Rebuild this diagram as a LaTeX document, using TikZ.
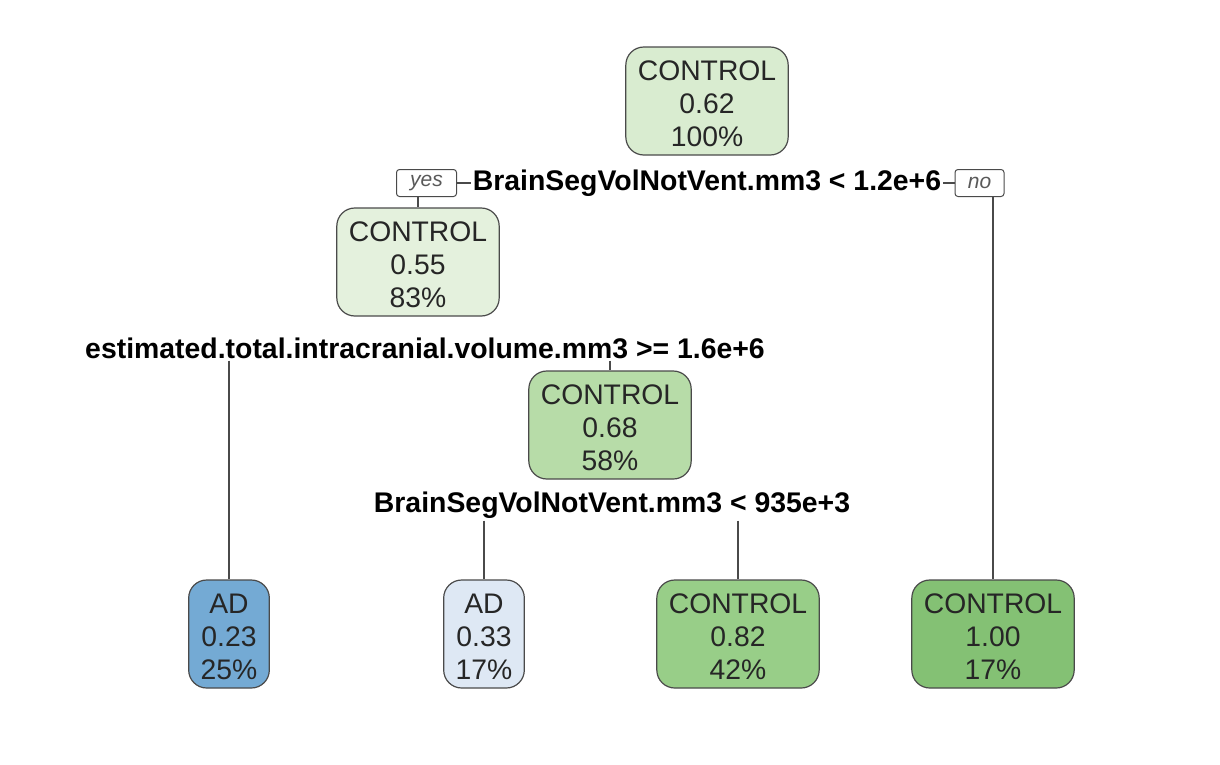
\documentclass[tikz,border=0pt]{standalone}
\usepackage{fontspec}
\setmainfont{Liberation Sans}
\definecolor{croot}{HTML}{D9ECD0}
\definecolor{cnodeB}{HTML}{E4F1DD}
\definecolor{cnodeC}{HTML}{B7DCA8}
\definecolor{cleafA}{HTML}{74AAD4}
\definecolor{cleafB}{HTML}{DEE8F4}
\definecolor{cleafC}{HTML}{98CE88}
\definecolor{cleafD}{HTML}{84C174}
\definecolor{edgec}{HTML}{4A4A4A}
\newcommand{\topstrut}{\rule{0pt}{26pt}}
\tikzset{
  treebox/.style={draw=edgec, line width=1.2pt, rounded corners=18pt, align=center,
    inner xsep=12pt, inner ysep=0pt, minimum height=108pt,
    font=\fontsize{28.3}{33}\selectfont, text=black!85},
  splitlabel/.style={inner sep=2pt, font=\fontsize{28.4}{33}\selectfont\bfseries, text=black},
  yesno/.style={draw=edgec, line width=1pt, rounded corners=3pt, minimum height=27pt,
    inner xsep=6pt, inner ysep=0pt, font=\fontsize{21}{24}\selectfont\itshape, text=black!65},
  conn/.style={draw=edgec, line width=1.2pt}
}
\begin{document}
\begin{tikzpicture}[x=1pt, y=-1pt]
\useasboundingbox (0,0) rectangle (1220,764);
% nodes
\node[treebox, fill=croot] (root) at (707,101) {\topstrut CONTROL\\0.62\\100\%};
\node[splitlabel] (s1) at (707,183) {BrainSegVolNotVent.mm3 < 1.2e+6};
\node[yesno, minimum width=60pt] (yes) at (426.5,183) {yes};
\node[yesno, minimum width=49pt] (no) at (979.5,183) {no};
\node[treebox, fill=cnodeB] (n2) at (418,262) {\topstrut CONTROL\\0.55\\83\%};
\node[splitlabel] (s2) at (425,348) {estimated.total.intracranial.volume.mm3 >= 1.6e+6};
\node[treebox, fill=cnodeC] (n3) at (610,425) {\topstrut CONTROL\\0.68\\58\%};
\node[splitlabel] (s3) at (612,505) {BrainSegVolNotVent.mm3 < 935e+3};
\node[treebox, fill=cleafA] (l1) at (229,634) {\topstrut AD\\0.23\\25\%};
\node[treebox, fill=cleafB] (l2) at (484,634) {\topstrut AD\\0.33\\17\%};
\node[treebox, fill=cleafC] (l3) at (738,634) {\topstrut CONTROL\\0.82\\42\%};
\node[treebox, fill=cleafD] (l4) at (993,634) {\topstrut CONTROL\\1.00\\17\%};
% connectors
\draw[conn] (yes.east) -- (yes.east -| s1.west);
\draw[conn] (no.west -| s1.east) -- (no.west);
\draw[conn] (yes.south -| n2.north) -- (n2.north);
\draw[conn] (no.south -| l4.north) -- (l4.north);
\draw[conn] (s2.south -| l1.north) -- (l1.north);
\draw[conn] (s2.south -| n3.north) -- (n3.north);
\draw[conn] (s3.south -| l2.north) -- (l2.north);
\draw[conn] (s3.south -| l3.north) -- (l3.north);
\end{tikzpicture}
\end{document}
